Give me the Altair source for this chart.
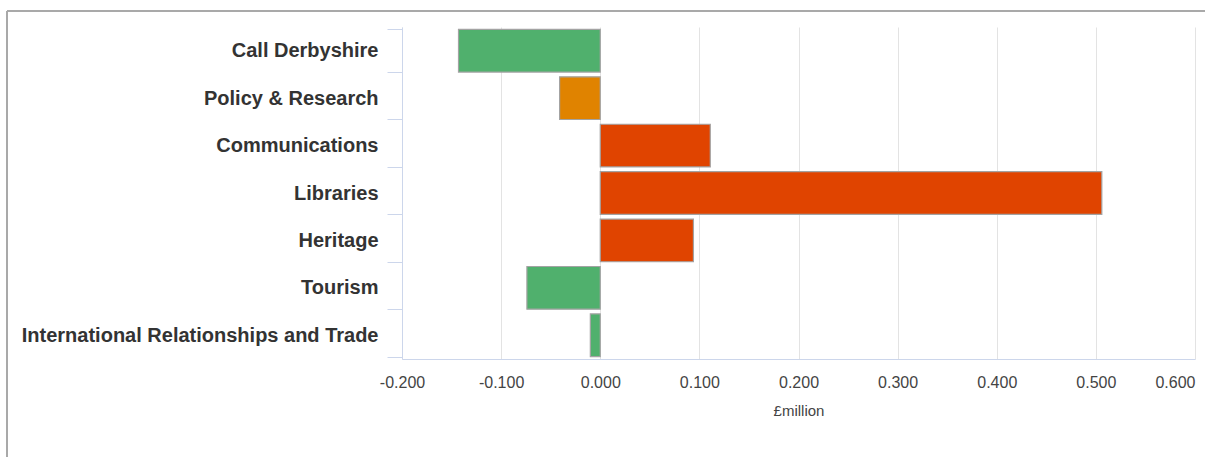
import altair as alt
import pandas as pd

# Variance by service area, £million
services = [
    "Call Derbyshire",
    "Policy & Research",
    "Communications",
    "Libraries",
    "Heritage",
    "Tourism",
    "International Relationships and Trade",
]
variance = [-0.143, -0.041, 0.111, 0.506, 0.094, -0.074, -0.010]
status = ["under", "minor", "over", "over", "over", "under", "under"]

status_names = ["under", "minor", "over"]
status_colors = ["#50b06d", "#e08300", "#e04400"]

tick_values = [-0.2, -0.1, 0.0, 0.1, 0.2, 0.3, 0.4, 0.5, 0.6]

df = pd.DataFrame({"service": services, "variance": variance, "status": status})

W, H = 793, 332
LEFT, TOP = 402, 27

bars = alt.Chart(df).mark_bar(stroke="#a3a3a3", strokeWidth=1.2).encode(
    y=alt.Y(
        "service:N",
        sort=services,
        scale=alt.Scale(paddingInner=0.1, paddingOuter=0.05),
        axis=alt.Axis(
            title=None,
            labelFont="Liberation Sans",
            labelFontSize=20,
            labelFontWeight="bold",
            labelColor="#333333",
            labelPadding=9,
            labelLimit=420,
            tickBand="extent",
            tickSize=15,
            tickColor="#ccd6eb",
            domainColor="#ccd6eb",
            grid=False,
        ),
    ),
    x=alt.X(
        "variance:Q",
        scale=alt.Scale(domain=[-0.2, 0.6], nice=False),
        axis=alt.Axis(
            title="£million",
            values=tick_values,
            labelExpr="replace(format(datum.value, '.3f'), '\u2212', '-')",
            labelAlign=alt.ExprRef(expr="datum.value >= 0.6 ? 'right' : 'center'"),
            labelFont="Liberation Sans",
            labelFontSize=16,
            labelColor="#444444",
            labelPadding=15,
            titleFont="Liberation Sans",
            titleFontSize=15,
            titleFontWeight="normal",
            titleColor="#444444",
            titlePadding=13,
            ticks=False,
            domainColor="#ccd6eb",
            gridColor="#e3e3e3",
            labelFlush=False,
            labelOverlap=False,
        ),
    ),
    color=alt.Color(
        "status:N",
        scale=alt.Scale(domain=status_names, range=status_colors),
        legend=None,
    ),
)

# Outer frame: top edge and left edge of the panel
frame_top = alt.Chart().mark_rule(color="#a9a9a9", strokeWidth=2, clip=False).encode(
    x=alt.value(7 - LEFT), x2=alt.value(1205 - LEFT), y=alt.value(11 - TOP)
)
frame_left = alt.Chart().mark_rule(color="#a9a9a9", strokeWidth=2, clip=False).encode(
    x=alt.value(7 - LEFT), y=alt.value(11 - TOP), y2=alt.value(457 - TOP)
)

chart = alt.layer(bars, frame_top, frame_left).properties(
    width=W,
    height=H,
    autosize=alt.AutoSizeParams(type="none"),
    padding={"left": LEFT, "top": TOP, "right": 1205 - LEFT - W, "bottom": 457 - TOP - H},
    background="white",
).configure_view(stroke=None)

chart.save("out.html", embed_options={"renderer": "svg", "actions": False})
